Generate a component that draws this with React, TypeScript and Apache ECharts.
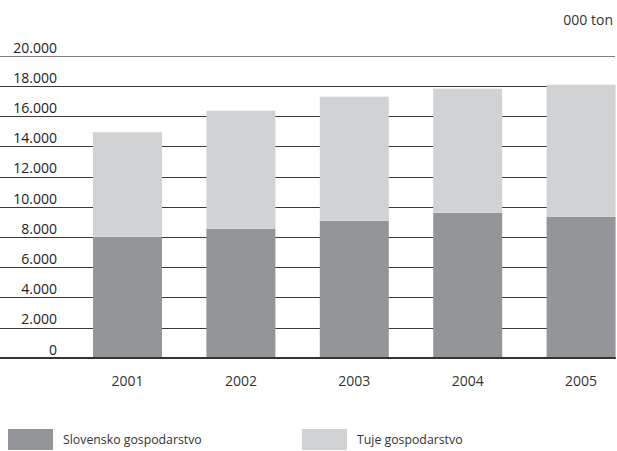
import React, { useEffect, useRef } from "react";
import * as echarts from "echarts";

const categories = ["2001", "2002", "2003", "2004", "2005"];
const slovenskoValues = [8030, 8560, 9090, 9620, 9360];
const tujeValues = [6920, 7810, 8210, 8210, 8740];
const yTicks = [0, 2000, 4000, 6000, 8000, 10000, 12000, 14000, 16000, 18000, 20000];
const seriesNames = ["Slovensko gospodarstvo", "Tuje gospodarstvo"];
const unitLabel = "000 ton";

const FONT = "'Open Sans', 'Noto Sans', sans-serif";
const DARK = "#939598";
const LIGHT = "#d1d2d4";

const fmt = (v: number) => String(v).replace(/\B(?=(\d{3})+(?!\d))/g, ".");

export default function App() {
  const ref = useRef<HTMLDivElement>(null);
  useEffect(() => {
    if (!ref.current) return;
    const chart = echarts.init(ref.current, null, { renderer: "svg" });
    const gridColors = yTicks.map((t, i) => (i === yTicks.length - 1 ? "#808080" : "#3a3a3a"));
    const legendBase = {
      top: 429,
      padding: 0,
      itemWidth: 45,
      itemHeight: 21,
      itemGap: 10,
      icon: "rect",
      textStyle: { color: "#333", fontSize: 12.3, fontFamily: FONT, padding: [6, 0, 0, 5] },
    };
    chart.setOption({
      animation: false,
      textStyle: { fontFamily: FONT },
      grid: [
        { left: 127.5, top: 56, width: 453.6, height: 302, containLabel: false },
        { left: 0, top: 56, width: 615, height: 302, containLabel: false },
      ],
      xAxis: [
        {
          type: "category",
          gridIndex: 0,
          data: categories,
          boundaryGap: false,
          axisLine: { show: false },
          axisTick: { show: false },
          splitLine: { show: false },
          axisLabel: { color: "#333", fontSize: 14, fontFamily: FONT, margin: 15 },
        },
        {
          type: "value",
          gridIndex: 1,
          min: 0,
          max: 1,
          z: 5,
          axisLine: { show: true, lineStyle: { color: "#333", width: 2 } },
          axisTick: { show: false },
          axisLabel: { show: false },
          splitLine: { show: false },
        },
      ],
      yAxis: [
        {
          type: "value",
          gridIndex: 0,
          min: 0,
          max: 20000,
          show: false,
          splitLine: { show: false },
        },
        {
          type: "value",
          gridIndex: 1,
          min: 0,
          max: 20000,
          interval: 2000,
          axisLine: { show: false },
          axisTick: { show: false },
          axisLabel: {
            inside: true,
            margin: 57,
            align: "right",
            verticalAlign: "bottom",
            padding: [0, 0, 2, 0],
            color: "#222",
            fontSize: 14,
            fontFamily: FONT,
            formatter: (v: number) => fmt(v),
          },
          splitLine: { show: true, lineStyle: { color: gridColors, width: 1 } },
        },
      ],
      legend: [
        { ...legendBase, left: 8, data: [seriesNames[0]] },
        { ...legendBase, left: 302, data: [seriesNames[1]] },
      ],
      graphic: [
        {
          type: "text",
          right: 4,
          top: 12,
          style: { text: unitLabel, fill: "#333", font: `14px ${FONT}` },
        },
      ],
      series: [
        {
          name: seriesNames[0],
          type: "bar",
          stack: "total",
          xAxisIndex: 0,
          yAxisIndex: 0,
          barWidth: 69,
          clip: false,
          itemStyle: { color: DARK },
          data: slovenskoValues,
        },
        {
          name: seriesNames[1],
          type: "bar",
          stack: "total",
          xAxisIndex: 0,
          yAxisIndex: 0,
          barWidth: 69,
          clip: false,
          itemStyle: { color: LIGHT },
          data: tujeValues,
        },
      ],
    });
    return () => chart.dispose();
  }, []);
  return <div ref={ref} style={{ width: 617, height: 451, position: "absolute", left: 0, top: 0 }} />;
}
